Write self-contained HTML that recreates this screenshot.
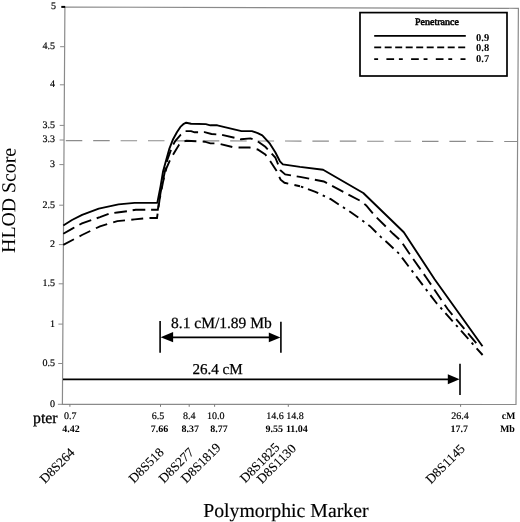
<!DOCTYPE html><html><head><meta charset="utf-8"><style>html,body{margin:0;padding:0;background:#fff;}svg{display:block;filter:grayscale(1);}.s{stroke:#000;stroke-width:0.18px;}text{font-family:"Liberation Serif",serif;fill:#000;text-rendering:geometricPrecision;}</style></head><body>
<svg width="520" height="522" viewBox="0 0 520 522">
<rect width="520" height="522" fill="#fff"/>
<path d="M64.9,7 L518.4,8.3 L516,404.5 L62.4,404.3 Z" fill="none" stroke="#8a8a8a" stroke-width="1.2"/>
<line x1="61.3" y1="6.9" x2="65.2" y2="6.9" stroke="#000" stroke-width="2"/>
<text x="56.1" y="9.2" font-size="10" class="s" text-anchor="end">5</text>
<line x1="60.1" y1="46.7" x2="64.6" y2="46.7" stroke="#8a8a8a" stroke-width="1"/>
<text x="54.9" y="49.1" font-size="10" class="s" text-anchor="end">4.5</text>
<line x1="59.9" y1="84.8" x2="64.4" y2="84.8" stroke="#8a8a8a" stroke-width="1"/>
<text x="54.9" y="87.2" font-size="10" class="s" text-anchor="end">4</text>
<line x1="59.7" y1="125.4" x2="64.2" y2="125.4" stroke="#8a8a8a" stroke-width="1"/>
<text x="54.9" y="127.8" font-size="10" class="s" text-anchor="end">3.5</text>
<line x1="59.6" y1="140.0" x2="64.1" y2="140.0" stroke="#8a8a8a" stroke-width="1"/>
<text x="54.9" y="142.4" font-size="10" class="s" text-anchor="end">3.3</text>
<line x1="59.4" y1="164.6" x2="63.9" y2="164.6" stroke="#8a8a8a" stroke-width="1"/>
<text x="54.9" y="167.0" font-size="10" class="s" text-anchor="end">3</text>
<line x1="59.2" y1="205.2" x2="63.7" y2="205.2" stroke="#8a8a8a" stroke-width="1"/>
<text x="54.9" y="207.6" font-size="10" class="s" text-anchor="end">2.5</text>
<line x1="58.9" y1="244.6" x2="63.4" y2="244.6" stroke="#8a8a8a" stroke-width="1"/>
<text x="54.9" y="247.0" font-size="10" class="s" text-anchor="end">2</text>
<line x1="58.7" y1="283.8" x2="63.2" y2="283.8" stroke="#8a8a8a" stroke-width="1"/>
<text x="54.9" y="286.2" font-size="10" class="s" text-anchor="end">1.5</text>
<line x1="58.4" y1="324.1" x2="62.9" y2="324.1" stroke="#8a8a8a" stroke-width="1"/>
<text x="54.9" y="326.5" font-size="10" class="s" text-anchor="end">1</text>
<line x1="58.2" y1="363.5" x2="62.7" y2="363.5" stroke="#8a8a8a" stroke-width="1"/>
<text x="54.9" y="365.9" font-size="10" class="s" text-anchor="end">0.5</text>
<line x1="57.9" y1="404.3" x2="62.4" y2="404.3" stroke="#8a8a8a" stroke-width="1"/>
<text x="54.9" y="406.7" font-size="10" class="s" text-anchor="end">0</text>
<line x1="69.9" y1="404.3" x2="69.9" y2="406.8" stroke="#7a7a7a" stroke-width="1"/>
<line x1="160.5" y1="404.3" x2="160.5" y2="406.8" stroke="#7a7a7a" stroke-width="1"/>
<line x1="189.2" y1="404.3" x2="189.2" y2="406.8" stroke="#7a7a7a" stroke-width="1"/>
<line x1="214.6" y1="404.3" x2="214.6" y2="406.8" stroke="#7a7a7a" stroke-width="1"/>
<line x1="288.3" y1="404.3" x2="288.3" y2="406.8" stroke="#7a7a7a" stroke-width="1"/>
<line x1="460.6" y1="404.3" x2="460.6" y2="406.8" stroke="#7a7a7a" stroke-width="1"/>
<line x1="65.8" y1="140.6" x2="517" y2="141.5" stroke="#8c8c8c" stroke-width="1.15" stroke-dasharray="16.5 10.9"/>
<polyline points="63.3,225.5 72.0,220.0 82.1,214.8 98.8,208.6 118.5,204.4 134.6,202.9 157.3,202.9 160.6,186.1 163.1,171.2 166.2,160.0 169.2,149.2 173.1,139.2 176.9,132.3 180.4,126.9 183.8,123.8 186.2,122.7 191.1,123.7 205.8,124.1 210.4,125.3 217.3,125.3 241.5,131.1 251.9,131.1 257.7,133.1 262.3,135.3 269.9,143.7 275.3,152.2 279.9,161.3 282.9,164.4 300.0,166.9 323.1,169.7 363.3,193.0 403.8,232.3 434.6,279.2 482.5,346.3" fill="none" stroke="#000" stroke-width="1.9" stroke-linejoin="round"/>
<polyline points="63.3,233.8 72.3,228.6 82.0,223.3 100.0,217.1 109.2,213.6 117.3,212.5 127.7,211.1 135.8,209.8 157.8,209.8 160.5,193.0 163.5,178.0 167.3,160.0 172.3,146.2 175.4,140.8 180.8,134.6 185.4,131.1 191.1,131.1 194.6,132.3 204.6,132.1 211.5,134.0 221.9,134.8 241.0,139.3 250.5,138.4 257.0,140.8 265.3,146.8 275.3,157.5 280.6,170.5 285.2,174.4 300.0,176.9 323.8,181.5 361.5,201.5 366.2,205.4 374.6,215.4 393.1,233.8 400.8,240.8 408.5,252.3 426.2,277.5 447.8,309.3 478.2,345.4" fill="none" stroke="#000" stroke-width="1.9" stroke-dasharray="12.7 5.8"/>
<polyline points="63.3,244.8 82.0,235.0 100.0,226.3 109.8,223.4 117.3,221.1 128.8,220.0 134.6,219.4 147.3,218.0 157.0,218.0 159.5,200.0 163.0,182.0 166.5,168.0 170.0,160.0 175.4,150.8 179.2,144.6 182.3,141.9 186.2,140.8 204.6,141.7 210.4,143.4 217.3,143.4 234.6,147.5 249.6,147.5 257.7,149.5 265.3,154.5 269.9,160.6 276.8,171.3 280.6,179.7 284.5,182.8 300.0,186.2" fill="none" stroke="#000" stroke-width="1.9" stroke-dasharray="12 6.3"/>
<polyline points="300.0,186.2 315.4,191.8 330.8,199.2 350.8,212.3 358.5,217.7 370.0,226.2 380.8,236.9 386.9,242.3 399.2,253.8 408.5,266.2 436.0,302.5 482.6,355.0" fill="none" stroke="#000" stroke-width="1.9" stroke-dasharray="2.5 5 11 5" stroke-dashoffset="-1"/>
<rect x="360" y="12.6" width="147" height="63.4" fill="#fff" stroke="#000" stroke-width="1.7"/>
<text x="437" y="25.2" font-size="10" class="s" style="stroke-width:0.55px" text-anchor="middle">Penetrance</text>
<line x1="374.2" y1="35.9" x2="465.8" y2="35.9" stroke="#000" stroke-width="1.7"/>
<line x1="374.2" y1="47.4" x2="465.5" y2="47.4" stroke="#000" stroke-width="1.7" stroke-dasharray="7 3.5"/>
<line x1="374.2" y1="59.1" x2="465.5" y2="59.1" stroke="#000" stroke-width="1.7" stroke-dasharray="3.9 8.3 7.7 4.8"/>
<text x="476.1" y="40.6" font-size="10.5" font-weight="bold">0.9</text>
<text x="476.1" y="51.4" font-size="10.5" font-weight="bold">0.8</text>
<text x="476.1" y="62.1" font-size="10.5" font-weight="bold">0.7</text>
<line x1="160.1" y1="321.1" x2="160.1" y2="352.8" stroke="#000" stroke-width="1.6"/>
<line x1="280.9" y1="321.8" x2="280.9" y2="352.8" stroke="#000" stroke-width="1.6"/>
<line x1="170" y1="337.3" x2="272" y2="337.3" stroke="#000" stroke-width="1.7"/>
<path d="M160.6,337.2 L173.1,332.1 L173.1,342.3 Z" fill="#000"/>
<path d="M280.4,337.4 L268.8,332.5 L268.8,342.3 Z" fill="#000"/>
<text x="171" y="327.8" font-size="15.5" class="s" style="stroke-width:0.25px">8.1 cM/1.89 Mb</text>
<line x1="63" y1="379.35" x2="450" y2="379.35" stroke="#000" stroke-width="1.7"/>
<path d="M459.6,379.3 L447.8,374.2 L447.8,384.2 Z" fill="#000"/>
<line x1="460" y1="363.7" x2="460" y2="395" stroke="#000" stroke-width="1.6"/>
<text x="192.4" y="374" font-size="15.1" class="s" style="stroke-width:0.25px">26.4 cM</text>
<text x="70.2" y="419" font-size="10" class="s" text-anchor="middle">0.7</text>
<text x="158" y="419" font-size="10" class="s" text-anchor="middle">6.5</text>
<text x="189.2" y="419" font-size="10" class="s" text-anchor="middle">8.4</text>
<text x="215.7" y="419" font-size="10" class="s" text-anchor="middle">10.0</text>
<text x="274.9" y="419" font-size="10" class="s" text-anchor="middle">14.6</text>
<text x="294.9" y="419" font-size="10" class="s" text-anchor="middle">14.8</text>
<text x="460" y="419" font-size="10" class="s" text-anchor="middle">26.4</text>
<text x="71.1" y="431.7" font-size="10" font-weight="bold" text-anchor="middle">4.42</text>
<text x="159.5" y="431.7" font-size="10" font-weight="bold" text-anchor="middle">7.66</text>
<text x="190.3" y="431.7" font-size="10" font-weight="bold" text-anchor="middle">8.37</text>
<text x="218.9" y="431.7" font-size="10" font-weight="bold" text-anchor="middle">8.77</text>
<text x="274.2" y="431.7" font-size="10" font-weight="bold" text-anchor="middle">9.55</text>
<text x="296.9" y="431.7" font-size="10" font-weight="bold" text-anchor="middle">11.04</text>
<text x="459.3" y="431.7" font-size="10" font-weight="bold" text-anchor="middle">17.7</text>
<text x="508.6" y="419" font-size="10" font-weight="bold" text-anchor="middle">cM</text>
<text x="507.4" y="431.7" font-size="10" font-weight="bold" text-anchor="middle">Mb</text>
<text x="33" y="422.8" font-size="15.8" class="s" style="stroke-width:0.3px">pter</text>
<text x="44.9" y="484.0" font-size="13.2" class="s" style="stroke-width:0.12px" transform="rotate(-45 44.9 484.0)">D8S264</text>
<text x="134.0" y="483.7" font-size="13.2" class="s" style="stroke-width:0.12px" transform="rotate(-45 134.0 483.7)">D8S518</text>
<text x="164.0" y="483.7" font-size="13.2" class="s" style="stroke-width:0.12px" transform="rotate(-45 164.0 483.7)">D8S277</text>
<text x="186.3" y="483.7" font-size="13.2" class="s" style="stroke-width:0.12px" transform="rotate(-45 186.3 483.7)">D8S1819</text>
<text x="245.2" y="483.4" font-size="13.2" class="s" style="stroke-width:0.12px" transform="rotate(-45 245.2 483.4)">D8S1825</text>
<text x="262.0" y="484.2" font-size="13.2" class="s" style="stroke-width:0.12px" transform="rotate(-45 262.0 484.2)">D8S1130</text>
<text x="430.9" y="484.4" font-size="13.2" class="s" style="stroke-width:0.12px" transform="rotate(-45 430.9 484.4)">D8S1145</text>
<text x="203.2" y="516.5" font-size="19.8" class="s" style="stroke-width:0.15px">Polymorphic Marker</text>
<text x="14.9" y="252.9" font-size="19.8" transform="rotate(-89.6 14.9 252.9)">HLOD Score</text>
</svg></body></html>
